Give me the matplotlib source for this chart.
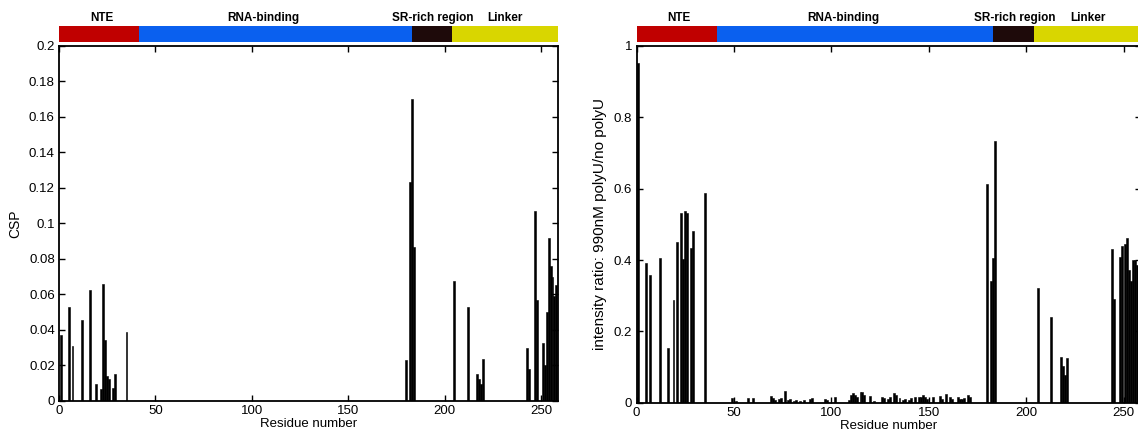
import matplotlib
matplotlib.use("Agg")
import matplotlib.pyplot as plt
from matplotlib.ticker import FuncFormatter

# --- domain map (residue ranges) ---
DOMAINS = ["NTE", "RNA-binding", "SR-rich region", "Linker"]
DOM_START = [0, 41.5, 183, 204]
DOM_END = [41.5, 183, 204, 259]
DOM_COLORS = ["#c00000", "#0a60ef", "#1e0a0a", "#d9d600"]
DOM_LABEL_X = [22, 106, 194, 231.5]

# --- left: chemical shift perturbation ---
csp_res = [1, 5, 7, 12, 16, 19, 22, 23, 24, 25, 26, 28, 29, 35,
           180, 182, 183, 184, 205, 212, 217, 218, 219, 220,
           243, 244, 247, 248, 251, 252, 253, 254, 255, 256, 257, 258]
csp_val = [0.037, 0.053, 0.031, 0.0455, 0.0625, 0.0096, 0.0066, 0.066, 0.034, 0.014,
           0.012, 0.007, 0.015, 0.039,
           0.023, 0.1235, 0.170, 0.0868, 0.0675, 0.053, 0.015, 0.0125, 0.0095, 0.0235,
           0.0298, 0.018, 0.107, 0.057, 0.0324, 0.020, 0.050, 0.092, 0.076, 0.070,
           0.059, 0.065]

# --- right: intensity ratio 990nM polyU / no polyU ---
ratio_res = [1, 5, 7, 12, 16, 19, 21, 23, 24, 25, 26, 28, 29, 35,
             49, 51, 57, 60, 69, 70, 71, 73, 74, 76, 78, 79, 81, 82, 84, 86, 89, 90,
             97, 98, 102, 109, 110, 111, 112, 113, 115, 116, 117, 120, 122,
             126, 127, 129, 130, 132, 133, 135, 137, 138, 140, 141, 143, 145, 146,
             147, 148, 149, 152, 156, 157, 159, 161, 162, 165, 166, 168, 171, 167, 170,
             180, 182, 183, 184, 206, 213, 218, 219, 220, 221,
             244, 245, 248, 249, 251, 252, 253, 254, 255, 256, 257]
ratio_val = [0.953, 0.393, 0.357, 0.405, 0.152, 0.289, 0.451, 0.533, 0.402, 0.538, 0.533,
             0.434, 0.482, 0.589,
             0.014, 0.006, 0.012, 0.012, 0.020, 0.012, 0.008, 0.010, 0.014, 0.032, 0.008,
             0.010, 0.006, 0.008, 0.006, 0.008, 0.009, 0.012,
             0.009, 0.008, 0.015, 0.008, 0.021, 0.026, 0.021, 0.015, 0.029, 0.029, 0.022,
             0.019, 0.006,
             0.015, 0.012, 0.009, 0.017, 0.028, 0.021, 0.012, 0.008, 0.010, 0.008, 0.012,
             0.015, 0.015, 0.017, 0.021, 0.017, 0.009, 0.015, 0.019, 0.009, 0.023, 0.017,
             0.009, 0.015, 0.009, 0.012, 0.017, 0.011, 0.022,
             0.614, 0.340, 0.407, 0.735, 0.322, 0.240, 0.128, 0.103, 0.078, 0.126,
             0.432, 0.292, 0.408, 0.439, 0.446, 0.462, 0.373, 0.340, 0.400, 0.400, 0.385]

W, H = 1138, 441
XMAX = 259
TICK_FONT = ["Liberation Sans", "DejaVu Sans"]

plt.rcParams["font.family"] = TICK_FONT
plt.rcParams["font.size"] = 9


def px(x0, y0, x1, y1):
    """pixel box (top-left origin) -> figure fraction rect"""
    return [x0 / W, 1 - y1 / H, (x1 - x0) / W, (y1 - y0) / H]


def header(fig, x0, x1):
    hx = fig.add_axes(px(x0, 26, x1, 42))
    for name, s, e, c, lx in zip(DOMAINS, DOM_START, DOM_END, DOM_COLORS, DOM_LABEL_X):
        hx.barh(0, e - s, left=s, height=1, color=c, linewidth=0)
        hx.text(lx, 0.6, name, ha="center", va="bottom", fontsize=8.5,
                fontweight="bold")
    hx.set_xlim(0, XMAX)
    hx.set_ylim(-0.5, 0.5)
    hx.axis("off")


def style(ax, ymax, yticks, ylabel, ysize):
    ax.set_xlim(0, XMAX)
    ax.set_ylim(0, ymax)
    ax.set_xticks([0, 50, 100, 150, 200, 250])
    ax.set_yticks(yticks)
    ax.yaxis.set_major_formatter(FuncFormatter(lambda v, _: f"{v:g}"))
    ax.tick_params(direction="in", top=True, right=True, length=4, width=1,
                   labelsize=9.5, pad=3)
    for sp in ax.spines.values():
        sp.set_linewidth(1.3)
    ax.set_xlabel("Residue number", fontsize=9.5, labelpad=1)
    ax.set_ylabel(ylabel, fontsize=ysize, labelpad=5)


fig = plt.figure(figsize=(W / 100, H / 100), dpi=100)

# left panel
ax1 = fig.add_axes(px(59, 46, 558.3, 400.7))
ax1.bar(csp_res, csp_val, width=1.0, color="black", edgecolor="black", linewidth=0.4)
style(ax1, 0.2, [0, 0.02, 0.04, 0.06, 0.08, 0.1, 0.12, 0.14, 0.16, 0.18, 0.2], "CSP", 10)
header(fig, 59, 558.3)

# right panel (runs off the right edge as in the original)
ax2 = fig.add_axes(px(636.5, 46, 636.5 + XMAX * 1.948, 402.7))
ax2.bar(ratio_res, ratio_val, width=1.0, color="black", edgecolor="black", linewidth=0.4)
style(ax2, 1.0, [0, 0.2, 0.4, 0.6, 0.8, 1.0], "intensity ratio: 990nM polyU/no polyU", 11)
header(fig, 636.5, 636.5 + XMAX * 1.948)

fig.savefig("out.png", dpi=100)
